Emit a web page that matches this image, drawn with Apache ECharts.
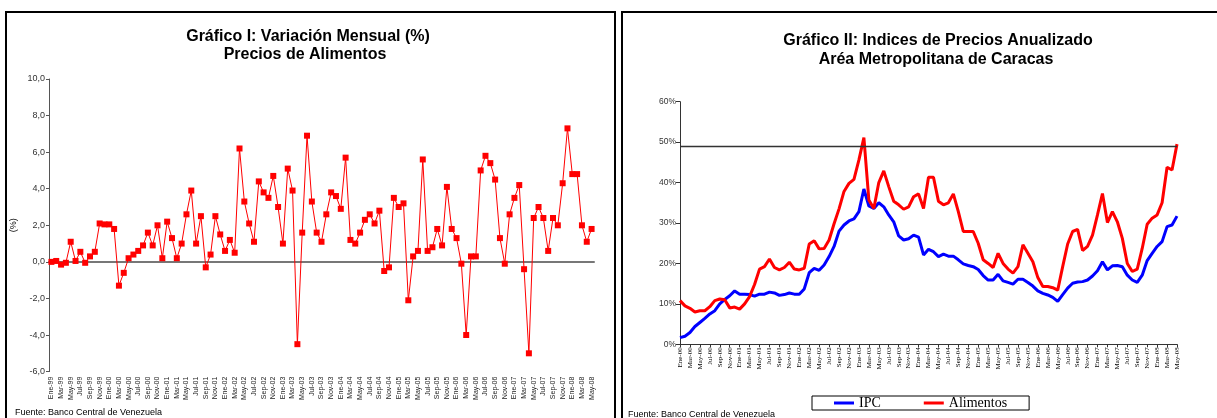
<!DOCTYPE html>
<html>
<head>
<meta charset="utf-8">
<title>Precios de Alimentos - BCV</title>
<script src="https://cdn.jsdelivr.net/npm/echarts@6/dist/echarts.min.js"></script>
<style>
  html, body { margin: 0; padding: 0; background: #fff; }
  #chart { width: 1217px; height: 418px; }
</style>
</head>
<body>
<div id="chart"></div>
<script>
// meses en español, solo para armar las categorias
const MESES = ['Ene', 'Feb', 'Mar', 'Abr', 'May', 'Jun', 'Jul', 'Ago', 'Sep', 'Oct', 'Nov', 'Dic'];

// Gráfico I: Ene-99 .. May-08
const catMensual = mesesDesde(1999, 113);
const variacionAlimentos = [
    0.0, 0.05, -0.15, -0.05, 1.1, 0.05, 0.55, -0.05, 0.3, 0.55, 2.1, 2.05,
    2.05, 1.8, -1.3, -0.6, 0.2, 0.4, 0.6, 0.9, 1.6, 0.9, 2.0, 0.2,
    2.2, 1.3, 0.2, 1.0, 2.6, 3.9, 1.0, 2.5, -0.3, 0.4, 2.5, 1.5,
    0.6, 1.2, 0.5, 6.2, 3.3, 2.1, 1.1, 4.4, 3.8, 3.5, 4.7, 3.0,
    1.0, 5.1, 3.9, -4.5, 1.6, 6.9, 3.3, 1.6, 1.1, 2.6, 3.8, 3.6,
    2.9, 5.7, 1.2, 1.0, 1.6, 2.3, 2.6, 2.1, 2.8, -0.5, -0.3, 3.5,
    3.0, 3.2, -2.1, 0.3, 0.6, 5.6, 0.6, 0.8, 1.8, 0.9, 4.1, 1.8,
    1.3, -0.1, -4.0, 0.3, 0.3, 5.0, 5.8, 5.4, 4.5, 1.3, -0.1, 2.6,
    3.5, 4.2, -0.4, -5.0, 2.4, 3.0, 2.4, 0.6, 2.4, 2.0, 4.3, 7.3,
    4.8, 4.8, 2.0, 1.1, 1.8
];

// Gráfico II: Ene-00 .. May-08 (% anualizado)
const catAnual = mesesDesde(2000, 101);
const ipc = [
    1.65, 2.0, 2.9, 4.4, 5.4, 6.4, 7.5, 8.3, 10.0, 11.1, 12.0, 13.2,
    12.4, 12.4, 12.3, 11.9, 12.4, 12.4, 12.9, 12.7, 12.1, 12.3, 12.7, 12.4,
    12.4, 13.7, 17.7, 18.8, 18.3, 19.6, 21.7, 24.2, 28.0, 29.5, 30.5, 31.0,
    32.8, 38.4, 34.2, 33.6, 35.0, 34.0, 32.0, 30.3, 26.8, 25.8, 26.1, 27.0,
    26.5, 22.1, 23.5, 22.9, 21.7, 22.3, 21.8, 21.8, 20.9, 19.9, 19.5, 19.2,
    18.5, 17.0, 15.9, 15.9, 17.3, 15.7, 15.3, 14.9, 16.1, 16.1, 15.3, 14.4,
    13.2, 12.6, 12.2, 11.6, 10.6, 12.3, 13.9, 15.1, 15.4, 15.5, 15.9, 16.9,
    18.2, 20.4, 18.4, 19.4, 19.5, 19.2, 17.1, 15.9, 15.3, 17.1, 20.7, 22.5,
    24.2, 25.4, 29.1, 29.5, 31.7
];
const alimentos = [
    10.8, 9.5, 8.9, 8.0, 8.3, 8.3, 9.3, 10.8, 11.2, 11.0, 9.0, 9.2,
    8.7, 10.0, 11.8, 14.8, 18.6, 19.2, 21.1, 19.0, 18.4, 19.0, 20.3, 18.6,
    18.4, 18.8, 24.8, 25.6, 23.6, 23.7, 25.8, 29.8, 33.5, 37.8, 39.8, 40.8,
    45.6, 51.1, 35.7, 33.6, 40.0, 42.9, 39.0, 35.4, 34.5, 33.4, 34.0, 36.5,
    37.2, 33.6, 41.3, 41.3, 35.4, 34.5, 35.0, 37.2, 32.8, 27.9, 27.9, 27.9,
    25.0, 20.9, 20.0, 19.0, 22.5, 20.0, 18.6, 17.6, 19.2, 24.6, 22.5, 20.4,
    16.5, 14.3, 14.3, 14.0, 13.4, 19.2, 24.8, 27.9, 28.4, 23.2, 24.2, 27.0,
    32.0, 37.3, 30.1, 32.8, 30.3, 26.2, 20.0, 18.0, 18.6, 23.7, 29.7, 31.2,
    32.0, 35.0, 43.8, 43.1, 49.5
];
const referencia = 49; // línea horizontal del gráfico II

function mesesDesde(anio, n) {
    const out = [];
    for (let i = 0; i < n; i++) {
        const a = (anio + Math.floor(i / 12)) % 100;
        out.push(MESES[i % 12] + '-' + String(a).padStart(2, '0'));
    }
    return out;
}

const SANS = '"Liberation Sans", Arial, sans-serif';
const SERIF = '"Liberation Serif", "Times New Roman", serif';

const chart = echarts.init(document.getElementById('chart'));

const texto = (txt, x, y, font, align) => ({
    type: 'text',
    x: x,
    y: y,
    silent: true,
    style: {
        text: txt,
        font: font,
        fill: '#000',
        textAlign: align || 'center',
        textVerticalAlign: 'middle',
        align: align || 'center',
        verticalAlign: 'middle'
    }
});

const option = {
    animation: false,
    backgroundColor: '#fff',
    graphic: [
        { type: 'rect', shape: { x: 6, y: 12, width: 609, height: 430 }, style: { fill: 'none', stroke: '#000', lineWidth: 2 }, silent: true },
        { type: 'rect', shape: { x: 622, y: 12, width: 640, height: 430 }, style: { fill: 'none', stroke: '#000', lineWidth: 2 }, silent: true },
        texto('Gráfico I: Variación Mensual (%)', 308, 37, 'bold 16px ' + SANS),
        texto('Precios de Alimentos', 305, 55, 'bold 16px ' + SANS),
        texto('Gráfico II: Indices de Precios Anualizado', 938, 41, 'bold 16px ' + SANS),
        texto('Aréa Metropolitana de Caracas', 936, 60, 'bold 16px ' + SANS),
        texto('Fuente: Banco Central de Venezuela', 15, 413, '9px ' + SANS, 'left'),
        texto('Fuente: Banco Central de Venezuela', 628, 415, '9px ' + SANS, 'left')
    ],
    legend: {
        data: ['IPC', 'Alimentos'],
        left: 812,
        top: 396,
        padding: [0, 22],
        itemGap: 43,
        itemWidth: 20,
        itemHeight: 3,
        icon: 'rect',
        borderColor: '#000',
        borderWidth: 1,
        textStyle: { fontFamily: SERIF, fontSize: 14, color: '#000', lineHeight: 11 }
    },
    grid: [
        { left: 49, right: 623, top: 79, bottom: 46.4 },
        { left: 680, right: 40, top: 101.7, bottom: 73.7 }
    ],
    xAxis: [
        {
            // etiquetas abajo
            gridIndex: 0,
            type: 'category',
            position: 'bottom',
            data: catMensual,
            boundaryGap: true,
            axisLine: { show: false, onZero: false },
            axisTick: { show: false },
            axisLabel: { interval: 1, rotate: 90, fontSize: 7, fontFamily: SANS, color: '#222', margin: 5 }
        },
        {
            // línea del cero con sus marcas
            gridIndex: 0,
            type: 'category',
            position: 'bottom',
            data: catMensual,
            boundaryGap: true,
            axisLine: { onZero: true, lineStyle: { color: '#777', width: 2 } },
            axisTick: { interval: 1, length: 3, lineStyle: { color: '#000' } },
            axisLabel: { show: false }
        },
        {
            gridIndex: 1,
            type: 'category',
            data: catAnual,
            boundaryGap: false,
            axisLine: { lineStyle: { color: '#333', width: 1 } },
            axisTick: { interval: 1, length: 3, lineStyle: { color: '#333' } },
            axisLabel: { interval: 1, rotate: 90, fontSize: 7, fontFamily: SERIF, color: '#000', margin: 3 }
        }
    ],
    yAxis: [
        {
            gridIndex: 0,
            type: 'value',
            min: -6,
            max: 10,
            interval: 2,
            name: '(%)',
            nameLocation: 'middle',
            nameGap: 31,
            nameTextStyle: { fontFamily: SANS, fontSize: 9, color: '#000' },
            axisLine: { show: true, onZero: false, lineStyle: { color: '#555' } },
            axisTick: { show: true, length: 3, lineStyle: { color: '#555' } },
            splitLine: { show: false },
            axisLabel: {
                fontSize: 9,
                fontFamily: SANS,
                color: '#333',
                margin: 4,
                formatter: v => v.toFixed(1).replace('.', ',')
            }
        },
        {
            gridIndex: 1,
            type: 'value',
            min: 0,
            max: 60,
            interval: 10,
            axisLine: { show: true, lineStyle: { color: '#333' } },
            axisTick: { show: true, length: 4, lineStyle: { color: '#333' } },
            splitLine: { show: false },
            axisLabel: { fontSize: 8.5, fontFamily: SANS, color: '#333', margin: 4, formatter: '{value}%' }
        }
    ],
    series: [
        {
            name: 'Variación',
            type: 'line',
            xAxisIndex: 0,
            yAxisIndex: 0,
            data: variacionAlimentos,
            symbol: 'rect',
            symbolSize: 6,
            showAllSymbol: true,
            lineStyle: { color: '#ff0000', width: 1 },
            itemStyle: { color: '#ff0000' }
        },
        {
            name: 'IPC',
            type: 'line',
            xAxisIndex: 2,
            yAxisIndex: 1,
            data: ipc,
            showSymbol: false,
            lineStyle: { color: '#0000ff', width: 3 },
            itemStyle: { color: '#0000ff' }
        },
        {
            name: 'Alimentos',
            type: 'line',
            xAxisIndex: 2,
            yAxisIndex: 1,
            data: alimentos,
            showSymbol: false,
            lineStyle: { color: '#ff0000', width: 3 },
            itemStyle: { color: '#ff0000' },
            markLine: {
                silent: true,
                symbol: 'none',
                label: { show: false },
                lineStyle: { color: '#333', width: 1.3, type: 'solid' },
                data: [{ yAxis: referencia }]
            }
        }
    ]
};

chart.setOption(option);
</script>
</body>
</html>
